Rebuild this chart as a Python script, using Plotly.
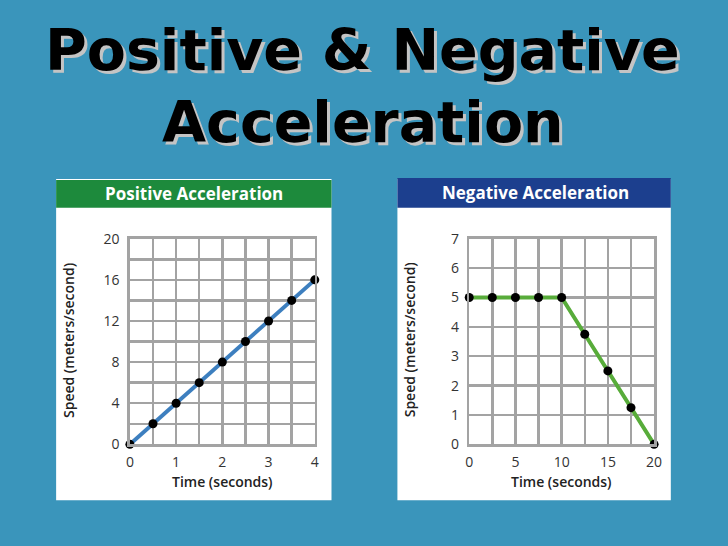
import plotly.graph_objects as go

# ---- data ----
pos_time = [0, 0.5, 1, 1.5, 2, 2.5, 3, 3.5, 4]
pos_speed = [0, 2, 4, 6, 8, 10, 12, 14, 16]
neg_time = [0, 2.5, 5, 7.5, 10, 12.5, 15, 17.5, 20]
neg_speed = [5, 5, 5, 5, 5, 3.75, 2.5, 1.25, 0]
pos_xticks = [0, 1, 2, 3, 4]
pos_yticks = [0, 4, 8, 12, 16, 20]
neg_xticks = [0, 5, 10, 15, 20]
neg_yticks = [0, 1, 2, 3, 4, 5, 6, 7]

W, H = 728, 546
BG = "#3a95bb"
GRID = "#a3a3a3"

def px(x):
    return x / W

def py(y):
    return 1 - y / H

fig = go.Figure()

fig.add_trace(go.Scatter(x=pos_time, y=pos_speed, mode="lines+markers",
                         line=dict(color="#3d7fbf", width=4),
                         marker=dict(color="black", size=9),
                         cliponaxis=False, xaxis="x", yaxis="y", showlegend=False,
                         hoverinfo="skip"))
fig.add_trace(go.Scatter(x=neg_time, y=neg_speed, mode="lines+markers",
                         line=dict(color="#58ac3a", width=4),
                         marker=dict(color="black", size=9),
                         cliponaxis=False, xaxis="x2", yaxis="y2", showlegend=False,
                         hoverinfo="skip"))

tickfont = dict(family="Open Sans", size=14, color="#333333")

def axis(domain, rng, ticks, minor, anchor, standoff):
    return dict(domain=domain, range=rng, tickvals=ticks, showgrid=True,
                gridcolor=GRID, gridwidth=2.5, showline=True, linecolor=GRID,
                linewidth=2.5, mirror=True, zeroline=False, ticks="",
                tickfont=tickfont, anchor=anchor, fixedrange=True,
                ticklabelstandoff=standoff,
                minor=dict(dtick=minor, showgrid=True, gridcolor=GRID, gridwidth=2.5, ticks=""))

ydom = [py(450), py(237)]
fig.update_layout(
    width=W, height=H, margin=dict(l=0, r=0, t=0, b=0),
    paper_bgcolor=BG, plot_bgcolor="white",
    xaxis=axis([px(128), px(316)], [0, 4], pos_xticks, 0.5, "y", 3),
    yaxis=axis(ydom, [0, 20], pos_yticks, 2, "x", 5),
    xaxis2=axis([px(473), px(661)], [0, 20], neg_xticks, 2.5, "y2", 3),
    yaxis2=axis(ydom, [0, 7], neg_yticks, 1, "x2", 5),
)

shapes = []
# white panels
for x0, x1 in [(53, 333), (400, 678)]:
    shapes.append(dict(type="rect", xref="paper", yref="paper", x0=px(x0), x1=px(x1),
                       y0=py(508), y1=py(175), fillcolor="white", line=dict(width=0), layer="below"))
# headers
shapes.append(dict(type="rect", xref="paper", yref="paper", x0=px(53), x1=px(333),
                   y0=py(205), y1=py(176), fillcolor="#1d8a3c", line=dict(width=0), layer="below"))
shapes.append(dict(type="rect", xref="paper", yref="paper", x0=px(400), x1=px(678),
                   y0=py(205), y1=py(174), fillcolor="#1c3f8e", line=dict(width=0), layer="below"))
fig.update_layout(shapes=shapes)

ann = []
# title with drop shadow
for line, yc in [("Positive &amp; Negative", 41), ("Acceleration", 116)]:
    ann.append(dict(text=line, x=px(365), y=py(yc), xref="paper", yref="paper",
                    showarrow=False, xanchor="center", yanchor="middle",
                    font=dict(family="DejaVu Sans", size=57, color="black", weight="bold",
                              shadow="3px 3px 0px #c4c4c4")))
# headers
ann.append(dict(text="Positive Acceleration", x=px(193), y=py(190), xref="paper", yref="paper",
                showarrow=False, xanchor="center", yanchor="middle",
                font=dict(family="Open Sans", size=17, color="white", weight="bold")))
ann.append(dict(text="Negative Acceleration", x=px(540), y=py(189), xref="paper", yref="paper",
                showarrow=False, xanchor="center", yanchor="middle",
                font=dict(family="Open Sans", size=17, color="white", weight="bold")))
# axis titles
lab = dict(family="Open Sans", size=14, color="#222222", weight=600)
for xc in [222, 567]:
    ann.append(dict(text="Time (seconds)", x=px(xc), y=py(488), xref="paper", yref="paper",
                    showarrow=False, xanchor="center", yanchor="middle", font=lab))
for xc in [65, 412]:
    ann.append(dict(text="Speed (meters/second)", x=px(xc), y=py(342), xref="paper", yref="paper",
                    showarrow=False, xanchor="center", yanchor="middle", textangle=-90, font=lab))
fig.update_layout(annotations=ann)

fig.write_html("out.html", config={"displayModeBar": False, "staticPlot": True},
               post_script="document.body.style.margin='0';document.body.style.overflow='hidden';document.body.style.background='%s';" % BG)
